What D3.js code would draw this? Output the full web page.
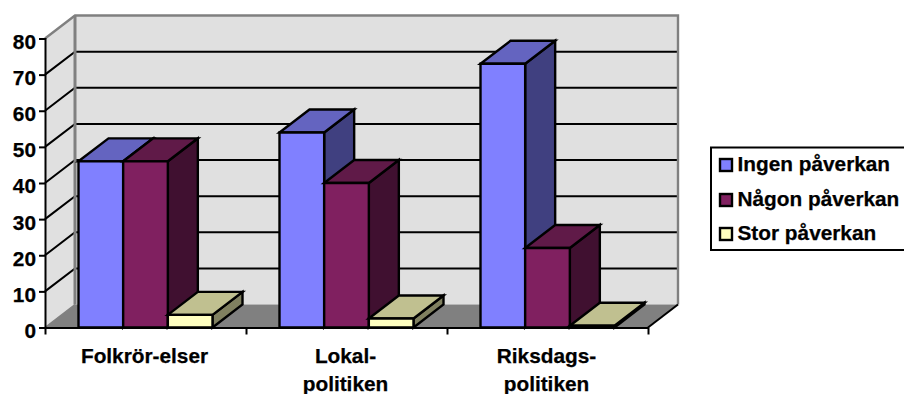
<!DOCTYPE html>
<html>
<head>
<meta charset="utf-8">
<script src="https://cdn.jsdelivr.net/npm/d3@7"></script>
<style>
html,body{margin:0;padding:0;background:#fff;overflow:hidden}
svg{display:block}
text{font-family:"Liberation Sans",Arial,sans-serif;font-weight:bold;fill:#000;stroke:#000;stroke-width:0.25px}
</style>
</head>
<body>
<svg id="chart" width="904" height="394"></svg>
<script>
const categories = ["Folkrör-elser", "Lokal-|politiken", "Riksdags-|politiken"];
const seriesNames = ["Ingen påverkan", "Någon påverkan", "Stor påverkan"];
const ingen = [46, 54, 73];
const nagon = [46, 40, 22];
const stor = [3.5, 2.5, 0.5];
const yTicks = [0, 10, 20, 30, 40, 50, 60, 70, 80];

const seriesValues = [ingen, nagon, stor];
const frontColors = ["#8080ff", "#802060", "#ffffc0"];
const topColors = ["#6464c0", "#601a48", "#c0c090"];
const sideColors = ["#404080", "#401030", "#808060"];

const depthX = 30, depthY = -23;
const labelSize = 20.8;
const svg = d3.select("#chart");
const y = d3.scaleLinear().domain([0, 80]).range([327.5, 38.5]);
const x0 = d3.scaleBand().domain(categories).range([45, 648]);
const x1 = d3.scaleBand().domain(d3.range(3)).range([0, x0.bandwidth()]).paddingOuter(0.75).paddingInner(0);

const poly = (pts, fill, stroke, sw) => svg.append("polygon")
  .attr("points", pts.map(p => p.join(",")).join(" "))
  .attr("fill", fill).attr("stroke", stroke || "none").attr("stroke-width", sw || 0)
  .attr("stroke-linejoin", "miter");

const xL = x0.range()[0], xR = x0.range()[1], yB = y(0), yT = y(80);

// back wall, side wall and floor of the 3D box
poly([[xL + depthX, yT + depthY], [xR + depthX, yT + depthY], [xR + depthX, yB + depthY], [xL + depthX, yB + depthY]], "#e0e0e0");
poly([[xL, yT], [xL + depthX, yT + depthY], [xL + depthX, yB + depthY], [xL, yB]], "#e0e0e0");
poly([[xL, yB], [xL + depthX, yB + depthY], [xR + depthX, yB + depthY], [xR, yB]], "#808080");

// gridlines wrap from the side wall onto the back wall
yTicks.filter(t => t > 0 && t < 80).forEach(t => {
  svg.append("polyline")
    .attr("points", [[xL, y(t)], [xL + depthX, y(t) + depthY], [xR + depthX, y(t) + depthY]].map(p => p.join(",")).join(" "))
    .attr("fill", "none").attr("stroke", "#000").attr("stroke-width", 2);
});

// grey outline of the walls
svg.append("polyline")
  .attr("points", [[xL, yT], [xL + depthX, yT + depthY], [xR + depthX, yT + depthY], [xR + depthX, yB + depthY]].map(p => p.join(",")).join(" "))
  .attr("fill", "none").attr("stroke", "#808080").attr("stroke-width", 2.4);
svg.append("line").attr("x1", xL + depthX).attr("x2", xL + depthX).attr("y1", yT + depthY).attr("y2", yB + depthY)
  .attr("stroke", "#808080").attr("stroke-width", 3);
svg.append("line").attr("x1", xL).attr("y1", yB).attr("x2", xL + depthX).attr("y2", yB + depthY)
  .attr("stroke", "#808080").attr("stroke-width", 1.5);
svg.append("line").attr("x1", xR).attr("y1", yB).attr("x2", xR + depthX).attr("y2", yB + depthY)
  .attr("stroke", "#000").attr("stroke-width", 2);

// bars, left to right so each one overlaps the side of its neighbour
categories.forEach((c, ci) => {
  seriesValues.forEach((vals, si) => {
    const l = x0(c) + x1(si), r = l + x1.bandwidth(), t = y(vals[ci]), b = y(0);
    const sw = 2.4;
    poly([[r, t], [r + depthX, t + depthY], [r + depthX, b + depthY], [r, b]], sideColors[si], "#000", sw);
    poly([[l, t], [l + depthX, t + depthY], [r + depthX, t + depthY], [r, t]], topColors[si], "#000", sw);
    poly([[l, t], [r, t], [r, b], [l, b]], frontColors[si], "#000", sw);
  });
});

// value axis
const yAxis = svg.append("g").attr("transform", `translate(${xL},0)`)
  .call(d3.axisLeft(y).tickValues(yTicks).tickSize(6).tickPadding(3));
yAxis.selectAll("path,line").attr("stroke", "#000").attr("stroke-width", 2);
yAxis.selectAll("text").attr("font-size", labelSize).attr("dy", "0.48em")
  .style("font-family", '"Liberation Sans",Arial,sans-serif').style("font-weight", "bold");

// category axis with ticks on the group boundaries
const xEdges = categories.map(c => x0(c)).concat(xR);
const xAxisScale = d3.scaleLinear().domain([xL, xR]).range([xL, xR]);
const xAxis = svg.append("g").attr("transform", `translate(0,${yB})`)
  .call(d3.axisBottom(xAxisScale).tickValues(xEdges).tickSize(7).tickSizeOuter(0).tickFormat(""));
xAxis.selectAll("path,line").attr("stroke", "#000").attr("stroke-width", 2);

categories.forEach(c => {
  const cx = x0(c) + x0.bandwidth() / 2 - 1;
  c.split("|").forEach((line, i) => {
    svg.append("text").attr("x", cx).attr("y", 363 + i * 27.5)
      .attr("text-anchor", "middle").attr("font-size", labelSize).text(line);
  });
});

// legend, running off the right edge
svg.append("rect").attr("x", 711).attr("y", 147.5).attr("width", 210).attr("height", 102.5)
  .attr("fill", "#fff").attr("stroke", "#000").attr("stroke-width", 2);
const legendBaselines = [171, 206, 240];
seriesNames.forEach((n, i) => {
  svg.append("rect").attr("x", 720).attr("y", legendBaselines[i] - 12).attr("width", 12).attr("height", 12)
    .attr("fill", frontColors[i]).attr("stroke", "#000").attr("stroke-width", 2.4);
  svg.append("text").attr("x", 737.5).attr("y", legendBaselines[i]).attr("font-size", labelSize).text(n);
});
</script>
</body>
</html>
